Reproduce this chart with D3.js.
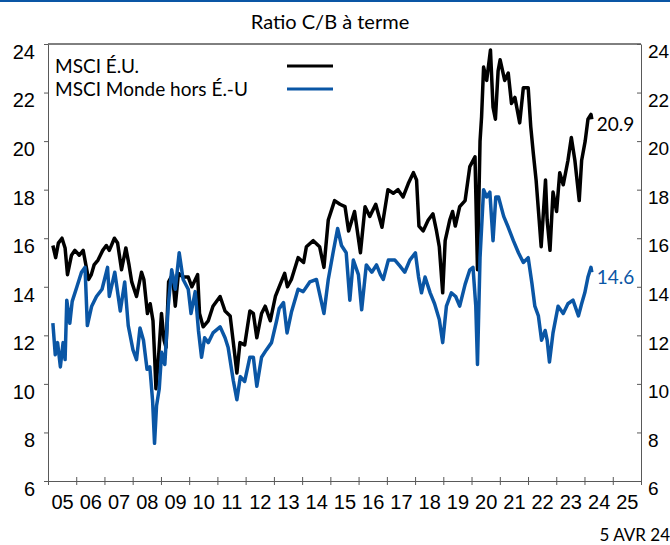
<!DOCTYPE html>
<html>
<head>
<meta charset="utf-8">
<script src="https://cdn.jsdelivr.net/npm/d3@7"></script>
<style>
  body { margin: 0; background: #fff; }
  svg { display: block; font-family: Lato, "Open Sans", sans-serif; }
  .axis path, .axis line { stroke: #595959; }
  .axis text { font-size: 20px; fill: #000; }
</style>
</head>
<body>
<svg width="670" height="545"></svg>
<script>
// MSCI US forward P/E (date, value)
var usSeries = [
  ["2005-03-05", 15.7], ["2005-04-10", 15.2], ["2005-05-15", 15.8], ["2005-07-01", 16.0],
  ["2005-08-10", 15.6], ["2005-09-10", 14.5], ["2005-11-01", 15.3], ["2005-12-15", 15.5],
  ["2006-02-10", 15.3], ["2006-04-01", 15.5], ["2006-06-10", 14.3], ["2006-07-15", 14.5],
  ["2006-08-20", 14.9], ["2006-10-10", 15.1], ["2006-12-10", 15.5], ["2007-01-25", 15.7],
  ["2007-03-05", 15.5], ["2007-05-10", 16.0], ["2007-06-20", 15.8], ["2007-08-10", 14.7],
  ["2007-10-05", 15.6], ["2007-11-15", 14.9], ["2007-12-20", 14.2], ["2008-02-20", 13.6],
  ["2008-04-25", 14.6], ["2008-05-25", 14.3], ["2008-07-10", 12.9], ["2008-08-15", 13.3],
  ["2008-09-20", 12.6], ["2008-10-10", 11.2], ["2008-10-28", 9.8], ["2008-12-05", 11.3],
  ["2009-01-08", 12.9], ["2009-02-10", 11.8], ["2009-03-08", 11.5], ["2009-04-10", 14.2],
  ["2009-05-30", 14.5], ["2009-07-05", 13.2], ["2009-08-15", 14.55], ["2009-10-15", 14.4],
  ["2009-12-20", 14.4], ["2010-02-05", 14.0], ["2010-04-20", 14.5], ["2010-05-15", 12.9],
  ["2010-07-01", 12.35], ["2010-09-05", 12.6], ["2010-11-05", 13.2], ["2011-02-05", 13.6],
  ["2011-04-10", 13.0], ["2011-06-15", 12.8], ["2011-08-10", 11.3], ["2011-09-10", 10.45],
  ["2011-10-20", 11.7], ["2011-12-20", 11.6], ["2012-02-25", 13.0], ["2012-04-10", 12.9],
  ["2012-05-25", 11.9], ["2012-07-25", 12.9], ["2012-09-10", 13.2], ["2012-11-15", 12.6],
  ["2013-01-20", 13.6], ["2013-03-10", 14.0], ["2013-05-20", 14.55], ["2013-06-25", 14.0],
  ["2013-08-15", 14.3], ["2013-11-10", 15.2], ["2014-01-20", 15.0], ["2014-02-25", 15.65],
  ["2014-05-25", 15.9], ["2014-08-15", 15.65], ["2014-10-10", 14.8], ["2014-12-05", 16.75],
  ["2015-02-25", 17.55], ["2015-05-05", 17.4], ["2015-07-10", 17.3], ["2015-08-25", 16.3],
  ["2015-11-10", 17.1], ["2016-01-25", 15.4], ["2016-03-25", 17.3], ["2016-05-25", 16.9],
  ["2016-08-10", 17.4], ["2016-10-30", 16.45], ["2017-01-15", 18.0], ["2017-03-25", 17.85],
  ["2017-05-25", 18.0], ["2017-07-30", 17.7], ["2017-10-05", 18.25], ["2017-12-10", 18.7],
  ["2018-01-20", 18.4], ["2018-02-20", 16.5], ["2018-04-15", 16.3], ["2018-06-20", 16.75],
  ["2018-08-20", 17.0], ["2018-10-05", 16.3], ["2018-11-10", 15.65], ["2018-12-24", 13.75],
  ["2019-01-25", 15.9], ["2019-03-25", 16.75], ["2019-05-01", 17.1], ["2019-06-05", 16.5],
  ["2019-08-01", 17.3], ["2019-10-10", 17.55], ["2019-12-10", 18.95], ["2020-02-15", 19.35],
  ["2020-03-18", 14.7], ["2020-04-20", 20.0], ["2020-05-10", 21.0], ["2020-06-05", 23.05],
  ["2020-07-15", 22.5], ["2020-09-02", 23.75], ["2020-10-05", 21.4], ["2020-11-05", 20.9],
  ["2020-12-10", 22.9], ["2021-01-05", 23.35], ["2021-03-05", 22.5], ["2021-04-20", 22.8],
  ["2021-06-01", 21.55], ["2021-07-15", 21.8], ["2021-09-15", 20.75], ["2021-11-01", 22.2],
  ["2022-01-03", 22.2], ["2022-02-05", 20.6], ["2022-03-10", 19.5], ["2022-04-15", 18.4],
  ["2022-05-25", 16.75], ["2022-06-20", 15.65], ["2022-08-15", 18.4], ["2022-09-05", 16.75],
  ["2022-10-12", 15.5], ["2022-11-20", 17.9], ["2023-01-05", 17.1], ["2023-02-15", 18.7],
  ["2023-04-01", 18.2], ["2023-06-01", 19.2], ["2023-07-15", 20.15], ["2023-08-30", 19.2],
  ["2023-10-25", 17.55], ["2023-11-25", 19.2], ["2024-01-10", 20.0], ["2024-02-15", 20.9],
  ["2024-03-25", 21.1], ["2024-04-05", 20.9]
];

// MSCI World ex-US forward P/E
var exUsSeries = [
  ["2005-03-05", 12.5], ["2005-04-05", 11.2], ["2005-05-05", 11.7], ["2005-06-10", 10.7],
  ["2005-07-15", 11.7], ["2005-08-10", 11.0], ["2005-09-01", 13.45], ["2005-10-10", 12.5],
  ["2005-11-10", 13.4], ["2006-01-10", 14.0], ["2006-03-10", 14.6], ["2006-04-25", 14.8],
  ["2006-05-25", 12.4], ["2006-07-20", 13.2], ["2006-09-20", 13.6], ["2006-12-01", 13.9],
  ["2007-02-10", 14.8], ["2007-03-05", 13.6], ["2007-05-15", 14.6], ["2007-07-25", 13.0],
  ["2007-09-20", 14.2], ["2007-11-05", 12.4], ["2008-01-05", 11.4], ["2008-02-20", 11.0],
  ["2008-04-05", 12.3], ["2008-05-20", 11.8], ["2008-07-05", 10.6], ["2008-08-10", 10.7],
  ["2008-09-15", 9.3], ["2008-10-10", 7.55], ["2008-11-05", 9.1], ["2008-12-10", 9.8],
  ["2009-01-10", 11.3], ["2009-02-20", 10.8], ["2009-04-05", 13.2], ["2009-05-20", 14.7],
  ["2009-07-05", 13.9], ["2009-08-25", 15.4], ["2009-10-15", 14.3], ["2009-12-20", 13.9],
  ["2010-01-25", 12.9], ["2010-03-20", 13.8], ["2010-05-01", 12.2], ["2010-06-10", 11.1],
  ["2010-07-20", 11.9], ["2010-09-05", 11.7], ["2010-11-05", 12.1], ["2011-02-05", 12.35],
  ["2011-04-10", 11.9], ["2011-05-20", 11.5], ["2011-07-25", 10.15], ["2011-09-10", 9.35],
  ["2011-10-25", 10.3], ["2011-12-20", 10.1], ["2012-02-25", 11.1], ["2012-04-10", 11.1],
  ["2012-05-25", 9.9], ["2012-07-25", 11.1], ["2012-09-25", 11.4], ["2012-12-01", 11.7],
  ["2013-02-05", 12.6], ["2013-03-10", 13.1], ["2013-05-05", 13.35], ["2013-06-20", 12.1],
  ["2013-08-15", 12.95], ["2013-11-10", 13.9], ["2014-01-15", 13.8], ["2014-04-10", 14.2],
  ["2014-07-05", 14.3], ["2014-10-10", 12.9], ["2014-12-05", 14.3], ["2015-02-05", 15.4],
  ["2015-04-05", 16.4], ["2015-05-25", 15.7], ["2015-07-25", 15.4], ["2015-09-10", 13.45],
  ["2015-10-25", 15.1], ["2015-12-30", 14.5], ["2016-02-10", 13.05], ["2016-04-10", 14.9],
  ["2016-06-20", 14.6], ["2016-08-20", 14.9], ["2016-10-10", 14.5], ["2016-11-15", 14.3],
  ["2017-01-20", 15.1], ["2017-04-15", 15.1], ["2017-06-20", 14.85], ["2017-08-20", 14.6],
  ["2017-10-25", 15.1], ["2018-01-05", 15.4], ["2018-02-15", 14.4], ["2018-03-25", 13.75],
  ["2018-05-10", 14.4], ["2018-07-15", 13.75], ["2018-09-10", 13.3], ["2018-11-10", 12.65],
  ["2018-12-24", 11.7], ["2019-02-10", 13.2], ["2019-04-15", 13.75], ["2019-06-10", 13.6],
  ["2019-08-01", 13.2], ["2019-10-10", 14.1], ["2019-12-10", 14.7], ["2020-01-20", 14.8],
  ["2020-02-25", 13.2], ["2020-03-18", 10.8], ["2020-04-20", 15.2], ["2020-06-05", 18.0],
  ["2020-07-15", 17.7], ["2020-08-25", 17.9], ["2020-10-05", 15.9], ["2020-11-10", 17.7],
  ["2020-12-15", 17.7], ["2021-02-20", 16.9], ["2021-04-20", 16.45], ["2021-06-25", 15.9],
  ["2021-08-30", 15.4], ["2021-11-01", 15.0], ["2022-01-03", 15.2], ["2022-02-20", 14.15],
  ["2022-03-30", 13.2], ["2022-05-15", 12.8], ["2022-06-25", 11.8], ["2022-08-10", 12.2],
  ["2022-09-05", 11.8], ["2022-10-05", 10.9], ["2022-11-20", 12.1], ["2023-01-25", 13.2],
  ["2023-04-01", 12.9], ["2023-06-01", 13.3], ["2023-08-05", 13.45], ["2023-10-15", 12.8],
  ["2023-11-25", 13.3], ["2024-01-05", 13.75], ["2024-02-15", 14.4], ["2024-03-25", 14.8],
  ["2024-04-05", 14.6]
];

var seriesNames = ["MSCI É.U.", "MSCI Monde hors É.-U"];
var seriesColors = ["#000000", "#0a56a5"];
var lastLabels = ["20.9", "14.6"];
var yTicks = [6, 8, 10, 12, 14, 16, 18, 20, 22, 24];
var yearLabels = ["05","06","07","08","09","10","11","12","13","14","15","16","17","18","19","20","21","22","23","24","25"];

var svg = d3.select("svg"),
    margin = {top: 44, right: 29, bottom: 64, left: 48},
    width = +svg.attr("width") - margin.left - margin.right,
    height = +svg.attr("height") - margin.top - margin.bottom,
    g = svg.append("g").attr("transform", "translate(" + margin.left + "," + margin.top + ")");

var parseDate = d3.timeParse("%Y-%m-%d");

var x = d3.scaleTime()
    .domain([new Date(2005, 0, 1), new Date(2026, 0, 1)])
    .range([0, width]);
var y = d3.scaleLinear().domain([6, 24]).range([height, 0]);

var line = d3.line()
    .x(function(d) { return x(parseDate(d[0])); })
    .y(function(d) { return y(d[1]); });

// blue rule on top of page
svg.append("rect").attr("x", 0).attr("y", 0).attr("width", 670).attr("height", 2).attr("fill", "#0a56a5");

svg.append("text")
    .attr("x", 330).attr("y", 29)
    .attr("text-anchor", "middle")
    .style("font-size", "20px")
    .text("Ratio C/B à terme");

// top border
g.append("line")
    .attr("x1", 0).attr("x2", width)
    .attr("stroke", "#000").attr("stroke-width", 1);

// left axis
g.append("g")
    .attr("class", "axis")
    .call(d3.axisLeft(y).tickValues(yTicks).tickSize(4).tickPadding(9).tickSizeOuter(0))
  .selectAll("text").attr("dy", "0.72em");

// right axis, ticks point inside
g.append("g")
    .attr("class", "axis")
    .attr("transform", "translate(" + width + ",0)")
    .call(d3.axisRight(y).tickValues(yTicks).tickSize(-4).tickPadding(7).tickSizeOuter(0))
  .selectAll("text").attr("dy", "0.72em").style("font-size", "19px");

// bottom axis: ticks at year boundaries
var xAxis = g.append("g")
    .attr("class", "axis")
    .attr("transform", "translate(0," + height + ")")
    .call(d3.axisBottom(x).ticks(d3.timeYear.every(1)).tickSize(4).tickSizeOuter(0).tickFormat(""));
xAxis.selectAll(".tick line").attr("y1", -4);

// year labels centred in each band
var yearMids = yearLabels.map(function(s, i) { return new Date(2005 + i, 6, 2); });
g.append("g")
    .attr("class", "axis")
    .attr("transform", "translate(0," + height + ")")
    .call(d3.axisBottom(x).tickValues(yearMids).tickSize(0).tickPadding(14)
      .tickFormat(function(d, i) { return yearLabels[i]; }))
  .call(function(a) { a.select(".domain").remove(); });

// lines
var all = [usSeries, exUsSeries];
g.selectAll(".series")
  .data(all)
  .enter().append("path")
    .attr("class", "series")
    .attr("fill", "none")
    .attr("stroke", function(d, i) { return seriesColors[i]; })
    .attr("stroke-width", 3.5)
    .attr("stroke-linejoin", "round")
    .attr("d", line);

// end labels
g.selectAll(".endlabel")
  .data(all)
  .enter().append("text")
    .attr("class", "endlabel")
    .attr("x", function(d) { return x(parseDate(d[d.length - 1][0])) + 5; })
    .attr("y", function(d) { return y(d[d.length - 1][1]); })
    .attr("dy", "0.6em")
    .attr("fill", function(d, i) { return seriesColors[i]; })
    .style("font-size", "19px")
    .text(function(d, i) { return lastLabels[i]; });

// legend
var legend = g.selectAll(".legend")
  .data(seriesNames)
  .enter().append("g")
    .attr("class", "legend")
    .attr("transform", function(d, i) { return "translate(7," + (22 + i * 23) + ")"; });
legend.append("text")
    .attr("dy", "0.35em")
    .style("font-size", "19px")
    .text(function(d) { return d; });
legend.append("line")
    .attr("x1", 232).attr("x2", 278)
    .attr("stroke", function(d, i) { return seriesColors[i]; })
    .attr("stroke-width", 3);

svg.append("text")
    .attr("x", 670).attr("y", 541)
    .attr("text-anchor", "end")
    .style("font-size", "17px")
    .text("5 AVR 24");
</script>
</body>
</html>
